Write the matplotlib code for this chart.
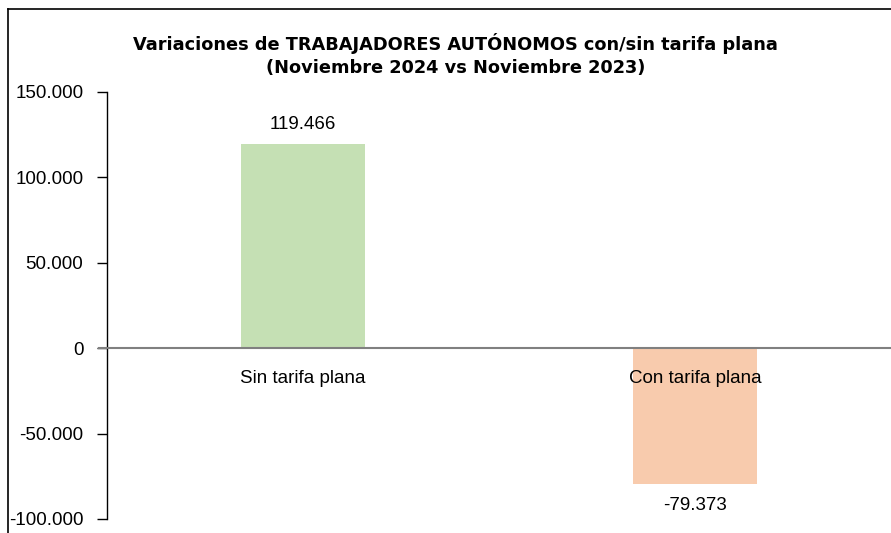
import matplotlib
matplotlib.use("Agg")
import matplotlib.pyplot as plt
from matplotlib.ticker import FuncFormatter
from matplotlib.lines import Line2D

categories = ["Sin tarifa plana", "Con tarifa plana"]
values = [119466, -79373]
colors = ["#C5E0B4", "#F8CBAD"]
yticks = [-100000, -50000, 0, 50000, 100000, 150000]

plt.rcParams['font.family'] = ['Liberation Sans', 'DejaVu Sans']


def fmt_es(v, pos=None):
    return "{:,.0f}".format(v).replace(",", ".")


fig = plt.figure(figsize=(8.91, 5.33), dpi=100)
ax = fig.add_axes([0.1201, 0.0263, 0.88, 0.8011])

x = list(range(len(categories)))
ax.bar(x, values, width=0.315, color=colors, zorder=2)

ax.set_xlim(-0.5, 1.5)
ax.set_ylim(-100000, 150000)
ax.set_yticks(yticks)
ax.yaxis.set_major_formatter(FuncFormatter(fmt_es))
ax.tick_params(axis='y', labelsize=13.5, length=7, width=1, pad=10, colors='black')
ax.set_xticks([])

for s in ['top', 'right', 'bottom']:
    ax.spines[s].set_visible(False)
ax.spines['left'].set_linewidth(1)

# zero line
ax.axhline(0, color='#808080', linewidth=1.5, zorder=3, xmin=-0.01, clip_on=False)

# category labels just under the zero line
for i, c in enumerate(categories):
    ax.annotate(c, (i, 0), xytext=(0, -22), textcoords='offset points',
                ha='center', va='center', fontsize=13.5, zorder=4)

# value labels
for i, v in enumerate(values):
    off = 14 if v > 0 else -16
    ax.annotate(fmt_es(v), (i, v), xytext=(0, off), textcoords='offset points',
                ha='center', va='center', fontsize=13.5)

fig.text(0.511, 0.897, "Variaciones de TRABAJADORES AUTÓNOMOS con/sin tarifa plana\n(Noviembre 2024 vs Noviembre 2023)",
         ha='center', va='center', fontsize=12.8, fontweight='bold',
         family=['Liberation Sans Narrow', 'DejaVu Sans'], linespacing=1.4)

# chart border (left and top)
fig.add_artist(Line2D([8 / 891, 8 / 891], [0, 1 - 9 / 533], color='black', linewidth=1.2))
fig.add_artist(Line2D([8 / 891, 1], [1 - 9 / 533, 1 - 9 / 533], color='black', linewidth=1.2))

fig.savefig("out.png", dpi=100)
